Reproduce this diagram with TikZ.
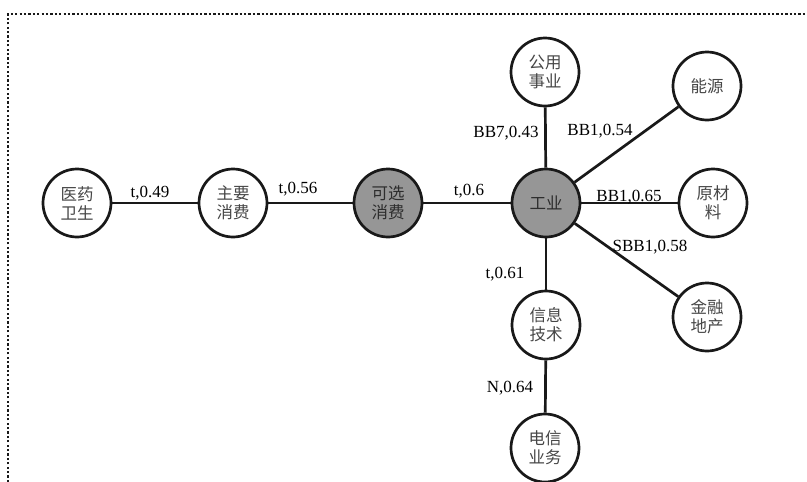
\documentclass[tikz,border=0pt]{standalone}
\usepackage{fontspec}
\setmainfont{Liberation Serif}
\newfontfamily\cjk{Noto Sans CJK SC}
\definecolor{edgecol}{RGB}{25,25,25}
\definecolor{hubgray}{RGB}{150,150,150}
\definecolor{txtgray}{RGB}{70,70,70}
\definecolor{txtdark}{RGB}{45,45,45}
\tikzset{
  sector/.style={circle, draw=edgecol, line width=2.7pt, fill=white,
    minimum size=68pt, inner sep=0pt, align=center,
    font=\cjk\fontsize{16.5}{19}\selectfont, text=txtgray},
  hub/.style={sector, fill=hubgray, text=txtdark},
  link/.style={draw=edgecol, line width=2.7pt},
  weight/.style={anchor=base, inner sep=0pt, text=black,
    font=\fontsize{17}{20}\selectfont},
  frameline/.style={draw=black!90, line width=2.6pt, dash pattern=on 2.3pt off 2.1pt},
}
\begin{document}
\begin{tikzpicture}[x=1pt,y=-1pt]
\useasboundingbox (0,0) rectangle (807,482);
% dotted frame, open to the right and bottom
\draw[frameline] (8,482) -- (8,14) -- (807,14);

% sector nodes
\node[sector] (yiyao)   at (77,203)  {医药\\卫生};
\node[sector] (zhuyao)  at (233,203) {主要\\消费};
\node[hub]    (kexuan)  at (388,203) {可选\\消费};
\node[hub]    (gongye)  at (546,203) {工业};
\node[sector] (gongyong) at (545,72) {公用\\事业};
\node[sector] (nengyuan) at (707,86) {能源};
\node[sector] (yuancai)  at (713,203) {原材\\料};
\node[sector] (jinrong)  at (707,317) {金融\\地产};
\node[sector] (xinxi)    at (546,325) {信息\\技术};
\node[sector] (dianxin)  at (545,448) {电信\\业务};

% connectors
\draw[link] (yiyao) -- (zhuyao);
\draw[link] (zhuyao) -- (kexuan);
\draw[link] (kexuan) -- (gongye);
\draw[link] (gongye) -- (gongyong);
\draw[link] (gongye) -- (nengyuan);
\draw[link] (gongye) -- (yuancai);
\draw[link] (gongye) -- (jinrong);
\draw[link] (gongye) -- (xinxi);
\draw[link] (xinxi) -- (dianxin);

% edge weights
\node[weight] (w1) at (150,197) {t,0.49};
\node[weight] (w2) at (298,193.5) {t,0.56};
\node[weight] (w3) at (469,195) {t,0.6};
\node[weight] (w4) at (506,137) {BB7,0.43};
\node[weight] (w5) at (600,135) {BB1,0.54};
\node[weight] (w6) at (629,201) {BB1,0.65};
\node[weight] (w7) at (650,251) {SBB1,0.58};
\node[weight] (w8) at (505,278) {t,0.61};
\node[weight] (w9) at (510,392) {N,0.64};
\end{tikzpicture}
\end{document}
